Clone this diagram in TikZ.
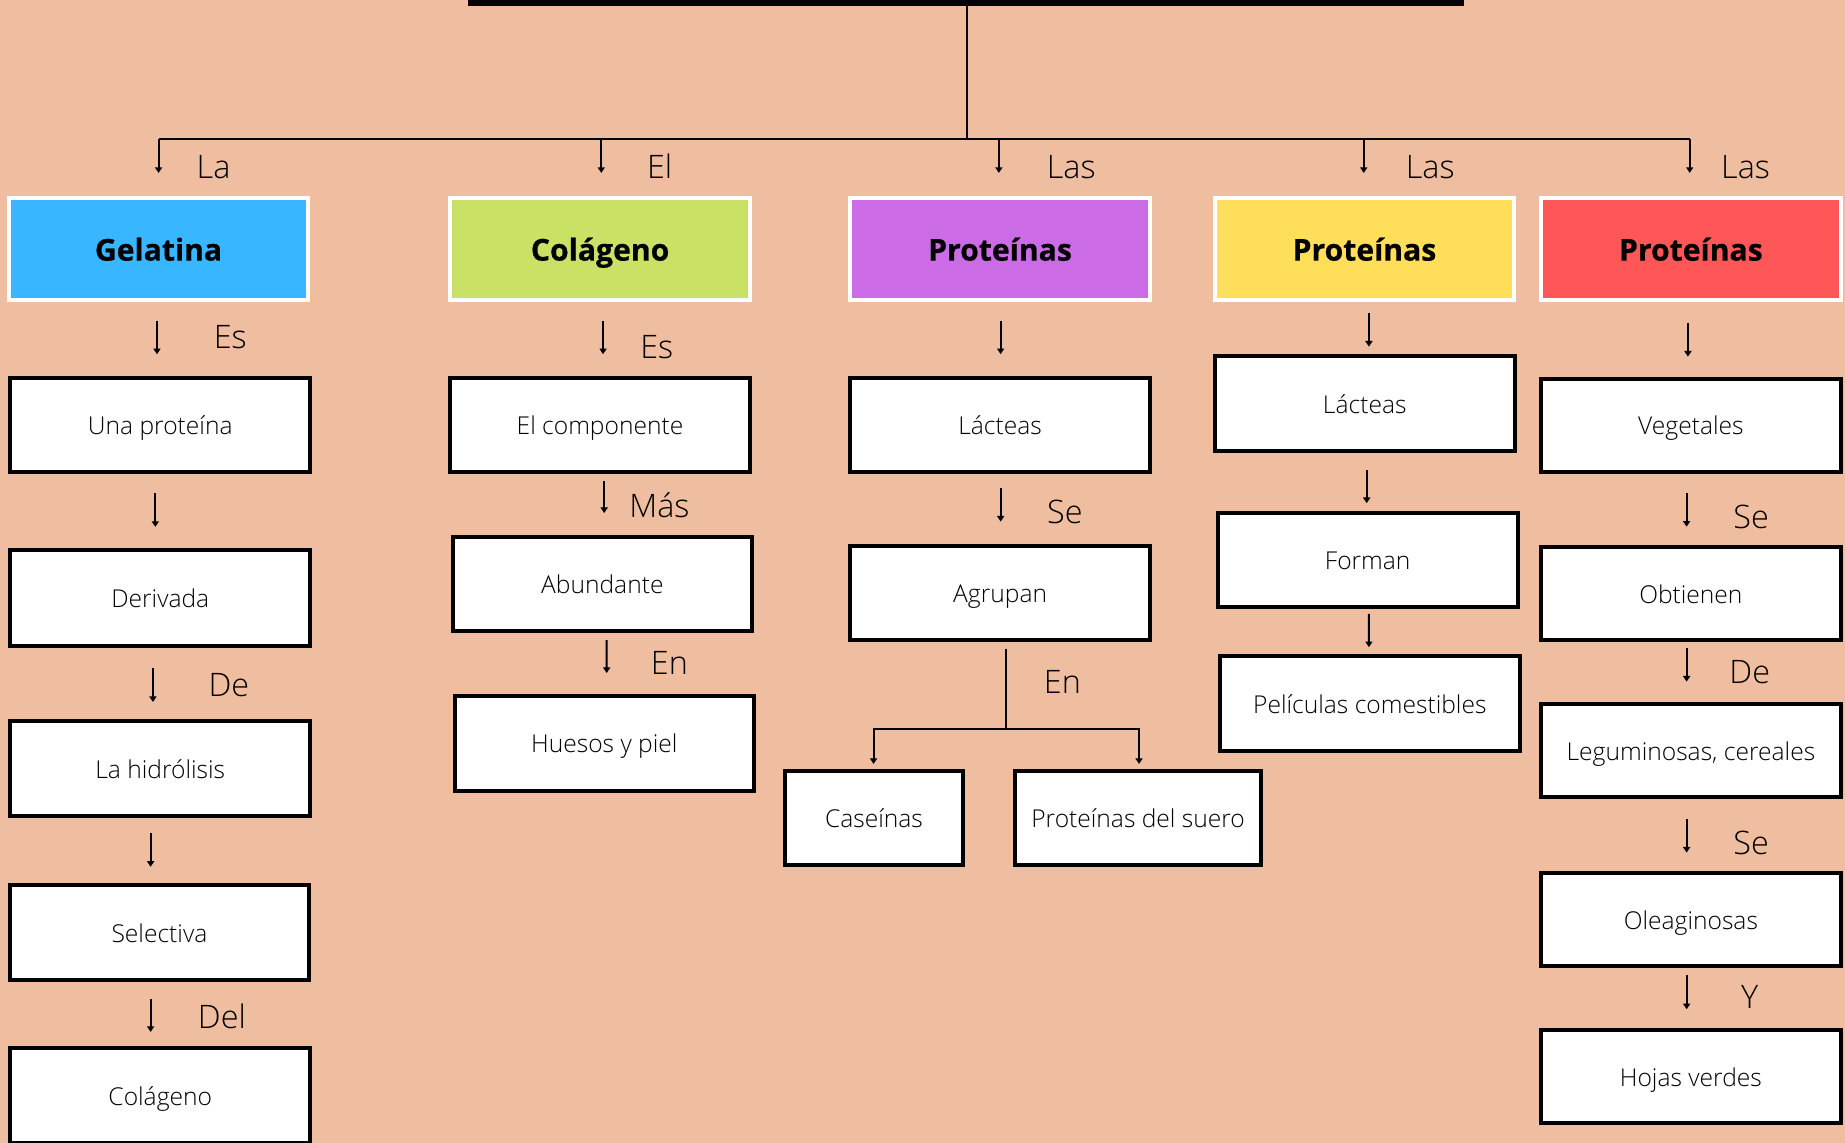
\documentclass[tikz,border=0pt]{standalone}
\usepackage{fontspec}
\setmainfont{Open Sans}
\newfontfamily\lightfont{Open Sans Light}
\newfontfamily\heavyfont{Open Sans}[BoldFeatures={FakeBold=0.6}]
\usetikzlibrary{arrows.meta,calc}

\definecolor{bg}{RGB}{239,189,159}
\definecolor{cblue}{RGB}{56,182,255}
\definecolor{cgreen}{RGB}{201,226,101}
\definecolor{cpurple}{RGB}{203,108,230}
\definecolor{cyellow}{RGB}{255,222,89}
\definecolor{cred}{RGB}{255,87,87}

\begin{document}
\begin{tikzpicture}[x=1pt,y=-1pt,
  hdr/.style={rectangle, draw=white, line width=3.4pt, inner sep=0pt, outer sep=1.7pt,
    minimum width=254.6pt, minimum height=86.6pt, text height=20pt, text depth=0pt,
    font=\heavyfont\bfseries\fontsize{25.6}{30}\selectfont, text=black},
  box/.style={rectangle, draw=black, fill=white, line width=3.4pt, inner sep=0pt, outer sep=1.7pt,
    minimum width=255pt, minimum height=80pt, text height=16.4pt, text depth=0pt,
    font=\lightfont\fontsize{20.9}{24}\selectfont, text=black},
  lbl/.style={anchor=base west, inner sep=0pt, font=\lightfont\fontsize{27.5}{30}\selectfont, text=black},
  conn/.style={line width=1.7pt, black},
  arr/.style={conn, -{Triangle[length=4.8pt,width=6pt]}}
]
\useasboundingbox[fill=bg] (0,0) rectangle (1568,971);

% title bar (only its lower edge lies inside the page)
\node[fill=black, inner sep=0pt, minimum width=846.3pt, minimum height=45pt] (title) at (820.9,-17.4) {};

% headers
\node[hdr, fill=cblue]   (H1) at (134.75,211.5) {Gelatina};
\node[hdr, fill=cgreen]  (H2) at (510,211.5)    {Colágeno};
\node[hdr, fill=cpurple] (H3) at (849.9,211.5)  {Proteínas};
\node[hdr, fill=cyellow] (H4) at (1159.6,211.5) {Proteínas};
\node[hdr, fill=cred]    (H5) at (1437,211.5)   {Proteínas};

% bus from the title to the five headers
\coordinate (busL) at (135,118);
\coordinate (busR) at (1436,118);
\coordinate (trunk) at (821.8,118);
\draw[conn] (title.south -| trunk) -- (trunk);
\draw[conn] (busL) -- (busR);
\draw[arr] (H1.north |- busL) -- ($(H1.north)+(0,-19.5)$);
\draw[arr] ($(H2.north |- busL)+(1,0)$) -- ($(H2.north)+(1,-19.5)$);
\draw[arr] ($(H3.north |- busL)+(-1,0)$) -- ($(H3.north)+(-1,-19.5)$);
\draw[arr] ($(H4.north |- busL)+(-0.6,0)$) -- ($(H4.north)+(-0.6,-19.5)$);
\draw[arr] ($(H5.north |- busL)+(-1,0)$) -- ($(H5.north)+(-1,-19.5)$);
\node[lbl] (tl1) at (167,152)    {La};
\node[lbl] (tl2) at (549.7,152)  {El};
\node[lbl] (tl3) at (889.4,152)  {Las};
\node[lbl] (tl4) at (1194.6,152) {Las};
\node[lbl] (tl5) at (1462.6,152) {Las};

% column 1: gelatina
\node[box] (b11) at (136.2,361)   [minimum height=79.9pt] {Una proteína};
\node[box] (b12) at (136.2,507.9) [minimum height=81.6pt] {Derivada};
\node[box] (b13) at (136.2,653)   [minimum height=80.5pt] {La hidrólisis};
\node[box] (b14) at (135.5,792.4) [minimum height=80.5pt, minimum width=253.6pt] {Selectiva};
\node[box] (b15) at (136.2,931)   [minimum height=80.6pt] {Colágeno};
\draw[arr] ($(H1.south)+(-1.35,16.3)$) -- ($(b11.north)+(-2.8,-18.3)$);
\draw[arr] ($(b11.south)+(-4.2,16.4)$) -- ($(b12.north)+(-4.2,-17.6)$);
\draw[arr] ($(b12.south)+(-6.2,17.6)$) -- ($(b13.north)+(-6.2,-14.4)$);
\draw[arr] ($(b13.south)+(-8.2,13.1)$) -- ($(b14.north)+(-7.5,-13.8)$);
\draw[arr] ($(b14.south)+(-7.5,14.7)$) -- ($(b15.north)+(-8.2,-12)$);
\node[lbl] (c1a) at (181.5,296) {Es};
\node[lbl] (c1b) at (177,592)   {De};
\node[lbl] (c1c) at (168,873.7) {Del};

% column 2: colágeno
\node[box] (b21) at (509.9,361)   [minimum height=79.9pt, minimum width=254.8pt] {El componente};
\node[box] (b22) at (511.9,496.4) [minimum height=79.9pt, minimum width=254.4pt] {Abundante};
\node[box] (b23) at (513.6,631.7) [minimum height=80.4pt, minimum width=254.4pt] {Huesos y piel};
\draw[arr] ($(H2.south)+(2.5,16.3)$) -- ($(b21.north)+(2.6,-18.3)$);
\draw[arr] ($(b21.south)+(3.6,6.2)$) -- ($(b22.north)+(1.6,-18.7)$);
\draw[arr] ($(b22.south)+(3.7,6)$) -- ($(b23.north)+(2,-17.8)$);
\node[lbl] (c2a) at (544,304.5) {Es};
\node[lbl] (c2b) at (534.7,440) {Más};
\node[lbl] (c2c) at (553,573)   {En};

% column 3: proteínas lácteas
\node[box] (b31) at (849.9,361.2) [minimum height=79.8pt, minimum width=254.3pt] {Lácteas};
\node[box] (b32) at (850,504)     [minimum height=79.6pt, minimum width=254.6pt] {Agrupan};
\node[box] (b33) at (742.8,695)   [minimum height=80.3pt, minimum width=150.5pt] {Caseínas};
\node[box] (b34) at (967.2,695)   [minimum height=80.3pt, minimum width=209pt] {Proteínas del suero};
\draw[arr] ($(H3.south)+(0.5,16.3)$) -- ($(b31.north)+(0.5,-18.6)$);
\draw[arr] ($(b31.south)+(0.5,11.9)$) -- ($(b32.north)+(0.4,-19.2)$);
\coordinate (split) at (854.9,619.8);
\draw[conn] ($(b32.south)+(4.9,6)$) -- (split);
\draw[arr] (split) -| ($(b33.north)+(-0.4,-3.9)$);
\draw[arr] (split) -| ($(b34.north)+(0.8,-3.9)$);
\node[lbl] (c3a) at (889.8,445.3) {Se};
\node[lbl] (c3b) at (887,589)     {En};

% column 4: proteínas lácteas y películas
\node[box] (b41) at (1159.8,342.9)  [minimum height=80.2pt] {Lácteas};
\node[box] (b42) at (1162.35,475.8) [minimum height=80.2pt, minimum width=255.3pt] {Forman};
\node[box] (b43) at (1164.15,598.1) [minimum height=80.8pt, minimum width=255.3pt] {Películas comestibles};
\draw[arr] ($(H4.south)+(3.8,9.8)$) -- ($(b41.north)+(3.6,-6.5)$);
\draw[arr] ($(b41.south)+(1.7,14.7)$) -- ($(b42.north)+(-0.85,-6.4)$);
\draw[arr] ($(b42.south)+(1.05,4.2)$) -- ($(b43.north)+(-0.75,-6)$);

% column 5: proteínas vegetales
\node[box] (b51) at (1437,361.45) [minimum height=79.3pt, minimum width=254.6pt] {Vegetales};
\node[box] (b52) at (1437,504.55) [minimum height=79.3pt, minimum width=254.6pt] {Obtienen};
\node[box] (b53) at (1437,637.8)  [minimum height=79.6pt, minimum width=254.6pt] {Leguminosas, cereales};
\node[box] (b54) at (1437,781.6)  [minimum height=79.4pt, minimum width=254.6pt] {Oleaginosas};
\node[box] (b55) at (1437,914.85) [minimum height=79.5pt, minimum width=254.6pt] {Hojas verdes};
\draw[arr] ($(H5.south)+(-2.5,17.7)$) -- ($(b51.north)+(-2.5,-17)$);
\draw[arr] ($(b51.south)+(-3.6,16.5)$) -- ($(b52.north)+(-3.6,-15.6)$);
\draw[arr] ($(b52.south)+(-3.6,5.1)$) -- ($(b53.north)+(-3.6,-17)$);
\draw[arr] ($(b53.south)+(-3.6,17)$) -- ($(b54.north)+(-3.6,-15.6)$);
\draw[arr] ($(b54.south)+(-3.6,5.6)$) -- ($(b55.north)+(-3.6,-15.7)$);
\node[lbl] (c5a) at (1473,449)     {Se};
\node[lbl] (c5b) at (1469.6,580.5) {De};
\node[lbl] (c5c) at (1473,725.8)   {Se};
\node[lbl] (c5d) at (1479.6,857.5) {Y};
\end{tikzpicture}
\end{document}
